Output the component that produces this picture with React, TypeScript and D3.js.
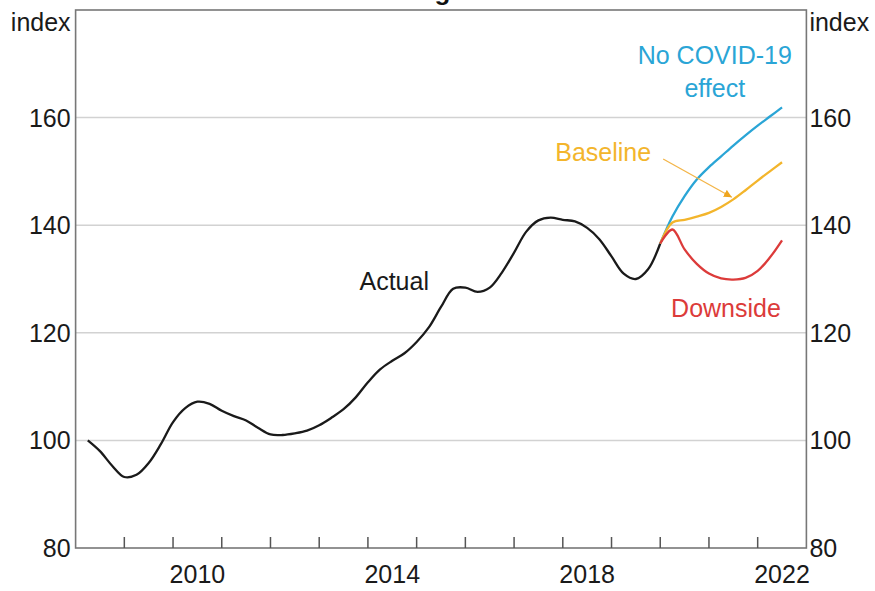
/**
 * Housing prices chart: actual series plus three scenarios.
 */
import React, {useEffect, useRef} from 'react';
import * as d3 from 'd3';

interface Point {
  t: number;
  v: number;
}

// quarterly dates and values
const actualDates = d3.range(2008.25, 2020.01, 0.25);
const actualValues = [
  100, 98, 95.3, 93.2, 93.6, 95.8, 99.3, 103.4, 106.0, 107.2, 106.8, 105.5,
  104.5, 103.7, 102.3, 101.1, 101.0, 101.3, 101.8, 102.8, 104.2, 105.8, 108.0,
  110.8, 113.2, 114.8, 116.2, 118.3, 121.0, 124.8, 128.2, 128.4, 127.6, 128.4,
  131.2, 134.9, 138.8, 140.9, 141.4, 141.0, 140.7, 139.5, 137.4, 134.2, 131.0,
  130.0, 131.8, 136.6,
];

const scenarioDates = d3.range(2020.0, 2022.51, 0.25);
const noCovidValues = [
  136.6, 141.6, 145.4, 148.5, 150.8, 152.8, 154.8, 156.7, 158.5, 160.2, 161.9,
];
const baselineValues = [
  136.6, 140.5, 141.0, 141.6, 142.3, 143.4, 144.8, 146.5, 148.3, 150.0, 151.7,
];
const downsideValues = [
  136.6, 139.2, 135.5, 132.8, 131.0, 130.1, 129.9, 130.2, 131.5, 134.0, 137.2,
];

const yTicks = [80, 100, 120, 140, 160];
const xLabelYears = [2010, 2014, 2018, 2022];
const xTickYears = d3.range(2009, 2023);

const zip = (dates: number[], values: number[]): Point[] =>
  values.map((v, i) => ({t: dates[i], v}));

const FONT = '"Liberation Sans", Arial, sans-serif';
const BLUE = '#2aa5d6';
const YELLOW = '#f3b52c';
const RED = '#dc3b3a';

const App: React.FC = () => {
  const svgRef = useRef<SVGSVGElement>(null);

  useEffect(() => {
    if (!svgRef.current) return;
    const svg = d3.select(svgRef.current);
    svg.selectAll('*').remove();

    const left = 75.6;
    const right = 806.4;
    const top = 10;
    const bottom = 548;

    const x = d3.scaleLinear().domain([2008, 2023]).range([left, right]);
    const y = d3.scaleLinear().domain([80, 180]).range([bottom, top]);

    // Title (sits above the crop, only the descender shows)
    svg
      .append('text')
      .attr('x', (left + right) / 2)
      .attr('y', -0.5)
      .attr('text-anchor', 'middle')
      .attr('font-family', FONT)
      .attr('font-weight', 'bold')
      .attr('font-size', 26)
      .attr('fill', '#111')
      .text('Housing Prices');

    // Grid lines
    svg
      .append('g')
      .selectAll('line')
      .data(yTicks.slice(1))
      .enter()
      .append('line')
      .attr('x1', left)
      .attr('x2', right)
      .attr('y1', (d) => y(d))
      .attr('y2', (d) => y(d))
      .attr('stroke', '#d2d2d2')
      .attr('stroke-width', 1.5);

    // Frame
    svg
      .append('rect')
      .attr('x', left)
      .attr('y', top)
      .attr('width', right - left)
      .attr('height', bottom - top)
      .attr('fill', 'none')
      .attr('stroke', '#777')
      .attr('stroke-width', 1.6);

    // Bottom ticks (inward)
    svg
      .append('g')
      .selectAll('line')
      .data(xTickYears)
      .enter()
      .append('line')
      .attr('x1', (d) => x(d))
      .attr('x2', (d) => x(d))
      .attr('y1', bottom)
      .attr('y2', bottom - 11)
      .attr('stroke', '#555')
      .attr('stroke-width', 1.5);

    const label = (
      g: d3.Selection<SVGGElement, unknown, null, undefined>,
      anchor: string,
      tx: number,
    ) =>
      g
        .selectAll('text')
        .data(yTicks)
        .enter()
        .append('text')
        .attr('x', tx)
        .attr('y', (d) => y(d) + 9)
        .attr('text-anchor', anchor)
        .attr('font-family', FONT)
        .attr('font-size', 25)
        .attr('fill', '#1a1a1a')
        .text((d) => d);

    label(svg.append('g'), 'end', left - 5);
    label(svg.append('g'), 'start', right + 3);

    svg
      .append('text')
      .attr('x', left - 5)
      .attr('y', 31)
      .attr('text-anchor', 'end')
      .attr('font-family', FONT)
      .attr('font-size', 25)
      .attr('fill', '#1a1a1a')
      .text('index');

    svg
      .append('text')
      .attr('x', right + 3)
      .attr('y', 31)
      .attr('text-anchor', 'start')
      .attr('font-family', FONT)
      .attr('font-size', 25)
      .attr('fill', '#1a1a1a')
      .text('index');

    svg
      .append('g')
      .selectAll('text')
      .data(xLabelYears)
      .enter()
      .append('text')
      .attr('x', (d) => x(d + 0.5))
      .attr('y', 583)
      .attr('text-anchor', 'middle')
      .attr('font-family', FONT)
      .attr('font-size', 25)
      .attr('fill', '#1a1a1a')
      .text((d) => d);

    // Lines
    const line = d3
      .line<Point>()
      .x((d) => x(d.t))
      .y((d) => y(d.v))
      .curve(d3.curveCatmullRom.alpha(0.5));

    const series: [Point[], string][] = [
      [zip(actualDates, actualValues), '#1a1a1a'],
      [zip(scenarioDates, noCovidValues), BLUE],
      [zip(scenarioDates, baselineValues), YELLOW],
      [zip(scenarioDates, downsideValues), RED],
    ];

    series.forEach(([pts, color]) => {
      svg
        .append('path')
        .datum(pts)
        .attr('d', line)
        .attr('fill', 'none')
        .attr('stroke', color)
        .attr('stroke-width', 2.3)
        .attr('stroke-linejoin', 'round');
    });

    // Annotation arrow for baseline
    const defs = svg.append('defs');
    defs
      .append('marker')
      .attr('id', 'arrow')
      .attr('viewBox', '0 0 10 10')
      .attr('refX', 10)
      .attr('refY', 5)
      .attr('markerWidth', 8)
      .attr('markerHeight', 8)
      .attr('markerUnits', 'userSpaceOnUse')
      .attr('orient', 'auto')
      .append('path')
      .attr('d', 'M0,0L10,5L0,10z')
      .attr('fill', '#efa51e');

    svg
      .append('line')
      .attr('x1', x(2020.06))
      .attr('y1', y(152.3))
      .attr('x2', x(2021.47))
      .attr('y2', y(145.2))
      .attr('stroke', '#f3b548')
      .attr('stroke-width', 1.3)
      .attr('marker-end', 'url(#arrow)');

    // Series labels
    const annotations: [string, number, number, string][] = [
      ['Actual', 2014.54, 127.9, '#1a1a1a'],
      ['Baseline', 2018.83, 152.0, YELLOW],
      ['Downside', 2021.35, 122.9, RED],
      ['No COVID-19', 2021.12, 170.0, BLUE],
      ['effect', 2021.12, 163.8, BLUE],
    ];

    svg
      .append('g')
      .selectAll('text')
      .data(annotations)
      .enter()
      .append('text')
      .attr('x', (d) => x(d[1]))
      .attr('y', (d) => y(d[2]))
      .attr('text-anchor', 'middle')
      .attr('font-family', FONT)
      .attr('font-size', 25)
      .attr('fill', (d) => d[3])
      .text((d) => d[0]);
  }, []);

  return (
    <svg
      ref={svgRef}
      width={875}
      height={591}
      style={{position: 'absolute', left: 0, top: 0, background: '#fff'}}
    />
  );
};

export default App;
